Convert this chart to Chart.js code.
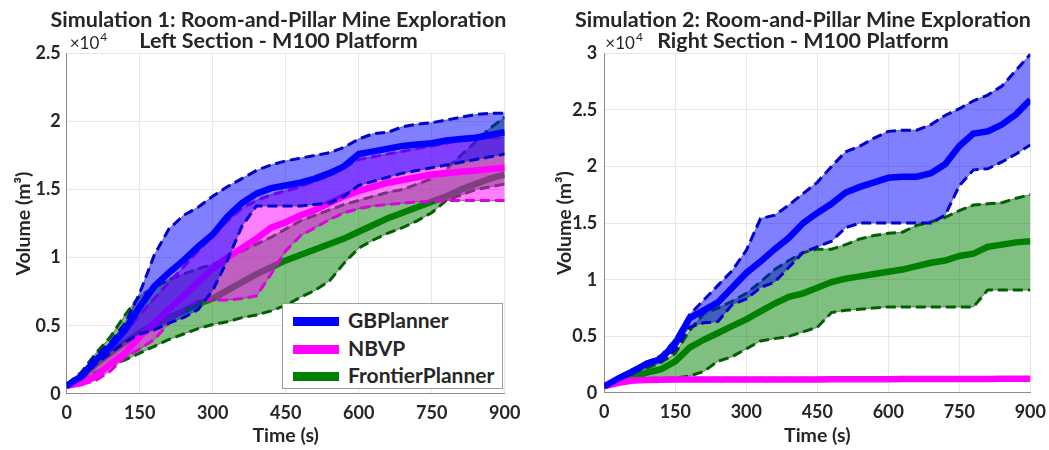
<!DOCTYPE html>
<html>
<head>
<meta charset="utf-8">
<script src="https://cdn.jsdelivr.net/npm/chart.js@4/dist/chart.umd.min.js"></script>
<style>
  body { margin: 0; background: #fff; width: 1049px; height: 450px; overflow: hidden; position: relative; }
  #left { position: absolute; left: 0; top: 0; }
  #right { position: absolute; left: 545px; top: 0; }
  .legend { position: absolute; left: 282px; top: 303px; width: 219px; height: 84px;
    background: #fff; border: 1px solid #9a9a9a; font: bold 21px Lato, sans-serif; color: #262626; }
  .legend div { position: absolute; left: 10px; height: 26px; line-height: 26px; white-space: nowrap; }
  .legend span { display: inline-block; width: 46px; height: 9px; vertical-align: middle; margin-right: 9px; margin-top: -3px; }
</style>
</head>
<body>
<canvas id="left" width="557" height="450"></canvas>
<canvas id="right" width="516" height="450"></canvas>
<div class="legend">
  <div style="top:3px"><span style="background:#0000ff"></span>GBPlanner</div>
  <div style="top:31px"><span style="background:#ff00ff"></span>NBVP</div>
  <div style="top:58px"><span style="background:#008000"></span>FrontierPlanner</div>
</div>
<script>
// time in seconds, volume in x10^4 m^3
const times = [0,30,60,90,120,150,180,210,240,270,300,330,360,390,420,450,480,510,540,570,600,630,660,690,720,750,780,810,840,870,900];

// Simulation 1 - left section
const gbMeanL = [0.06,0.13,0.25,0.35,0.47,0.64,0.79,0.89,0.98,1.08,1.17,1.30,1.40,1.47,1.51,1.53,1.55,1.58,1.62,1.67,1.76,1.78,1.80,1.82,1.83,1.84,1.86,1.87,1.88,1.90,1.92];
const gbUpL   = [0.07,0.15,0.28,0.38,0.52,0.74,1.02,1.21,1.31,1.37,1.45,1.52,1.58,1.64,1.68,1.71,1.73,1.75,1.77,1.81,1.87,1.91,1.92,1.96,1.98,1.99,2.01,2.03,2.05,2.06,2.06];
const gbLoL   = [0.05,0.11,0.22,0.30,0.38,0.44,0.47,0.52,0.56,0.62,0.76,0.98,1.23,1.38,1.38,1.38,1.38,1.39,1.40,1.45,1.53,1.56,1.59,1.62,1.64,1.66,1.68,1.70,1.72,1.74,1.76];
const nbMeanL = [0.06,0.08,0.13,0.22,0.30,0.42,0.52,0.62,0.72,0.82,0.92,1.00,1.07,1.14,1.22,1.26,1.31,1.35,1.40,1.45,1.49,1.52,1.55,1.57,1.59,1.61,1.62,1.63,1.64,1.65,1.66];
const nbUpL   = [0.07,0.11,0.22,0.33,0.45,0.58,0.70,0.82,0.93,1.05,1.16,1.27,1.36,1.42,1.46,1.49,1.52,1.56,1.60,1.66,1.72,1.74,1.76,1.78,1.80,1.82,1.84,1.86,1.87,1.88,1.88];
const nbLoL   = [0.05,0.07,0.10,0.17,0.27,0.33,0.40,0.52,0.62,0.68,0.69,0.69,0.70,0.72,0.88,1.05,1.16,1.22,1.28,1.33,1.36,1.38,1.39,1.40,1.41,1.41,1.42,1.42,1.42,1.42,1.42];
const frMeanL = [0.06,0.12,0.22,0.30,0.38,0.45,0.51,0.56,0.61,0.66,0.70,0.76,0.82,0.88,0.93,0.98,1.02,1.06,1.10,1.14,1.19,1.24,1.29,1.33,1.37,1.41,1.45,1.50,1.54,1.58,1.61];
const frUpL   = [0.07,0.16,0.30,0.42,0.58,0.72,0.78,0.84,0.88,0.92,0.95,1.00,1.05,1.10,1.15,1.21,1.27,1.31,1.35,1.39,1.42,1.45,1.48,1.50,1.54,1.58,1.65,1.75,1.85,1.95,2.03];
const frLoL   = [0.05,0.09,0.16,0.21,0.25,0.30,0.35,0.40,0.44,0.48,0.51,0.53,0.56,0.58,0.61,0.65,0.71,0.76,0.83,0.96,1.07,1.13,1.18,1.22,1.27,1.33,1.42,1.46,1.50,1.52,1.54];

// Simulation 2 - right section
const gbMeanR = [0.06,0.13,0.19,0.26,0.30,0.44,0.66,0.73,0.80,0.93,1.06,1.16,1.27,1.37,1.50,1.59,1.67,1.77,1.82,1.86,1.90,1.91,1.91,1.94,2.02,2.18,2.29,2.31,2.37,2.46,2.59];
const gbUpR   = [0.07,0.14,0.21,0.27,0.33,0.47,0.69,0.82,0.95,1.08,1.26,1.54,1.57,1.66,1.76,1.86,2.00,2.13,2.18,2.25,2.31,2.32,2.32,2.37,2.45,2.51,2.58,2.63,2.71,2.85,2.99];
const gbLoR   = [0.05,0.12,0.17,0.24,0.28,0.38,0.58,0.62,0.63,0.78,0.83,0.93,0.98,1.11,1.24,1.29,1.34,1.46,1.50,1.50,1.50,1.50,1.50,1.50,1.57,1.83,1.97,1.98,2.04,2.11,2.19];
const nbMeanR = [0.06,0.09,0.11,0.115,0.118,0.12,0.12,0.12,0.12,0.12,0.12,0.12,0.12,0.12,0.12,0.12,0.122,0.122,0.122,0.122,0.122,0.123,0.123,0.123,0.123,0.124,0.124,0.124,0.125,0.125,0.125];
const nbUpR   = [0.07,0.10,0.12,0.125,0.128,0.13,0.13,0.13,0.13,0.13,0.13,0.13,0.13,0.13,0.13,0.13,0.132,0.132,0.132,0.132,0.132,0.133,0.133,0.133,0.133,0.134,0.134,0.134,0.135,0.135,0.135];
const nbLoR   = [0.05,0.08,0.10,0.105,0.108,0.11,0.11,0.11,0.11,0.11,0.11,0.11,0.11,0.11,0.11,0.11,0.112,0.112,0.112,0.112,0.112,0.113,0.113,0.113,0.113,0.114,0.114,0.114,0.115,0.115,0.115];
const frMeanR = [0.06,0.10,0.14,0.18,0.21,0.28,0.40,0.47,0.53,0.59,0.65,0.72,0.79,0.85,0.88,0.93,0.98,1.01,1.03,1.05,1.07,1.09,1.12,1.15,1.17,1.21,1.23,1.29,1.31,1.33,1.34];
const frUpR   = [0.07,0.12,0.17,0.22,0.27,0.35,0.55,0.70,0.75,0.81,0.88,0.98,1.09,1.17,1.24,1.27,1.27,1.31,1.36,1.39,1.41,1.42,1.48,1.51,1.55,1.61,1.66,1.67,1.68,1.72,1.75];
const frLoR   = [0.05,0.09,0.12,0.13,0.13,0.13,0.15,0.19,0.28,0.32,0.39,0.46,0.48,0.50,0.54,0.58,0.71,0.73,0.74,0.75,0.76,0.76,0.76,0.76,0.76,0.76,0.76,0.91,0.91,0.91,0.91];

const FONT = 'Lato';
const TXT = '#262626';

function pts(vals) {
    return times.map((t, i) => ({x: t, y: vals[i]}));
}

// one planner = mean line, dashed bounds, shaded band with thin edge
function planner(name, color, dark, fillColor, mean, up, lo) {
    return [
        {label: name, data: pts(mean), borderColor: color, borderWidth: 6.5, fill: false},
        {label: name + ' lo', data: pts(lo), borderColor: dark, borderWidth: 3, borderDash: [10, 5], fill: false},
        {label: name + ' up', data: pts(up), borderColor: dark, borderWidth: 3, borderDash: [10, 5], fill: false},
        {label: name + ' lo edge', data: pts(lo), borderColor: 'rgba(70,70,70,0.8)', borderWidth: 0.8, fill: false},
        {label: name + ' up edge', data: pts(up), borderColor: 'rgba(70,70,70,0.8)', borderWidth: 0.8, fill: '-1', backgroundColor: fillColor},
    ];
}

const expLabel = {
    id: 'expLabel',
    afterDraw(chart) {
        const {ctx, chartArea} = chart;
        ctx.save();
        ctx.fillStyle = TXT;
        ctx.font = '17px ' + FONT;
        ctx.textBaseline = 'alphabetic';
        const x = chartArea.left + chart.options.expX;
        ctx.fillText('×10', x, chartArea.top - 4);
        const w = ctx.measureText('×10').width;
        ctx.font = '12px ' + FONT;
        ctx.fillText('4', x + w + 1, chartArea.top - 12);
        ctx.restore();
    }
};

function makeChart(id, title, yMax, yWidth, rightGap, xHeight, yTitlePad, tickPad, expX, sets) {
    return new Chart(document.getElementById(id), {
        type: 'line',
        data: {datasets: sets},
        plugins: [expLabel],
        options: {
            expX: expX,
            responsive: false,
            animation: false,
            devicePixelRatio: 1,
            layout: {padding: {left: 0, right: 0, top: 2, bottom: 0}},
            elements: {point: {radius: 0}, line: {tension: 0}},
            plugins: {
                legend: {display: false},
                tooltip: {enabled: false},
                title: {
                    display: true, text: title, color: TXT,
                    font: {family: FONT, size: 21.5, weight: 'bold', lineHeight: 0.97},
                    padding: {top: 7.5, bottom: 2}
                }
            },
            scales: {
                x: {
                    type: 'linear', min: 0, max: 900,
                    ticks: {stepSize: 150, color: TXT, padding: 8, font: {family: FONT, size: 18, weight: 'bold'}},
                    grid: {color: '#e6e6e6', drawTicks: false},
                    border: {color: '#8c8c8c'},
                    title: {display: true, text: 'Time (s)', color: TXT, padding: {top: 0, bottom: 3},
                        font: {family: FONT, size: 19.5, weight: 'bold'}},
                    afterFit: s => { s.height = xHeight; }
                },
                y: {
                    min: 0, max: yMax,
                    ticks: {stepSize: 0.5, color: TXT, padding: tickPad, font: {family: FONT, size: 18, weight: 'bold'},
                        callback: v => String(v)},
                    grid: {color: '#e6e6e6', drawTicks: false},
                    border: {color: '#8c8c8c'},
                    title: {display: true, text: 'Volume (m³)', color: TXT, padding: {top: yTitlePad, bottom: 0},
                        font: {family: FONT, size: 19.5, weight: 'bold'}},
                    afterFit: s => { s.width = yWidth; }
                },
                // empty right-hand spacer so the title stays centred on the whole figure
                gap: {
                    position: 'right', display: true,
                    grid: {display: false}, border: {display: false}, ticks: {display: false},
                    afterFit: s => { s.width = rightGap; }
                }
            }
        }
    });
}

makeChart('left',
    ['Simulation 1: Room-and-Pillar Mine Exploration', 'Left Section - M100 Platform'],
    2.5, 66.7, 52.3, 56, 12, 6, 3,
    [].concat(
        planner('GBPlanner', '#0000ff', '#0000d0', 'rgba(0,0,255,0.5)', gbMeanL, gbUpL, gbLoL),
        planner('NBVP', '#ff00ff', '#e000e0', 'rgba(255,0,255,0.5)', nbMeanL, nbUpL, nbLoL),
        planner('FrontierPlanner', '#008000', '#006000', 'rgba(0,128,0,0.5)', frMeanL, frUpL, frLoL)
    ));

makeChart('right',
    ['Simulation 2: Room-and-Pillar Mine Exploration', 'Right Section - M100 Platform'],
    3, 59.3, 30.7, 57, 8, 7, 1,
    [].concat(
        planner('GBPlanner', '#0000ff', '#0000d0', 'rgba(0,0,255,0.5)', gbMeanR, gbUpR, gbLoR),
        planner('NBVP', '#ff00ff', '#e000e0', 'rgba(255,0,255,0.5)', nbMeanR, nbUpR, nbLoR),
        planner('FrontierPlanner', '#008000', '#006000', 'rgba(0,128,0,0.5)', frMeanR, frUpR, frLoR)
    ));
</script>
</body>
</html>
